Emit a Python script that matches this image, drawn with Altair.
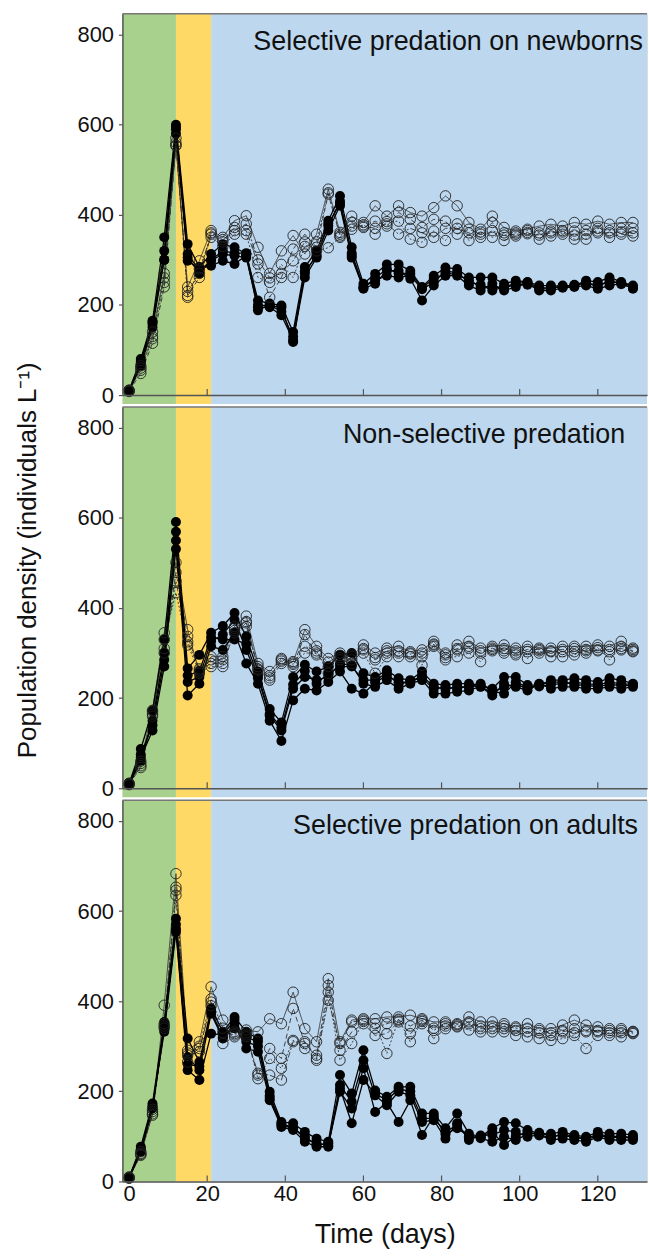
import altair as alt
import pandas as pd

FONT = "Liberation Sans"

DAYS = list(range(0, 130, 3))
REPS = ["R1", "R2", "R3", "R4"]

# four replicate values per sampling day (rows follow DAYS)
NEWBORN_PRED = [
    [10, 8, 12, 9], [80, 70, 65, 75], [165, 158, 150, 162], [350, 320, 300, 300],
    [600, 595, 590, 580], [335, 313, 298, 305], [284, 276, 280, 270], [313, 298, 287, 300],
    [335, 313, 298, 320], [328, 309, 291, 315], [313, 305, 310, 315], [210, 195, 188, 200],
    [203, 195, 200, 198], [199, 177, 185, 195], [140, 122, 130, 118], [284, 261, 270, 275],
    [320, 305, 312, 308], [387, 365, 375, 380], [442, 420, 430, 425], [328, 305, 315, 309],
    [247, 236, 240, 238], [269, 247, 255, 260], [290, 276, 265, 280], [290, 276, 261, 270],
    [276, 258, 265, 270], [240, 210, 235, 238], [265, 243, 250, 258], [283, 265, 275, 270],
    [280, 265, 272, 268], [261, 243, 250, 255], [261, 232, 245, 240], [261, 247, 232, 240],
    [247, 232, 240, 238], [254, 240, 248, 245], [251, 248, 250, 245], [243, 232, 238, 235],
    [243, 232, 238, 236], [241, 238, 240, 243], [243, 240, 245, 242], [254, 243, 248, 250],
    [251, 236, 245, 240], [261, 243, 250, 255], [251, 248, 250, 246], [243, 236, 240, 238],
]
NEWBORN_CTRL = [
    [10, 9, 11, 8], [60, 48, 55, 65], [130, 115, 125, 140], [270, 240, 250, 260],
    [553, 560, 570, 555], [240, 221, 217, 230], [298, 261, 280, 270], [365, 357, 350, 360],
    [350, 340, 330, 345], [387, 372, 357, 365], [398, 365, 357, 380], [328, 291, 261, 300],
    [270, 217, 250, 260], [320, 261, 290, 270], [354, 324, 261, 298], [313, 357, 330, 340],
    [357, 328, 340, 320], [457, 446, 449, 327], [361, 353, 357, 350], [397, 383, 368, 375],
    [383, 372, 378, 375], [420, 386, 357, 370], [397, 375, 385, 380], [420, 405, 386, 357],
    [405, 390, 346, 370], [397, 372, 339, 360], [416, 390, 364, 350], [442, 386, 343, 370],
    [420, 357, 380, 370], [383, 368, 343, 360], [368, 357, 362, 350], [397, 383, 350, 365],
    [372, 343, 360, 355], [364, 353, 360, 357], [368, 361, 365, 358], [375, 346, 360, 355],
    [379, 364, 353, 360], [375, 357, 365, 362], [383, 364, 346, 355], [379, 357, 346, 365],
    [386, 364, 370, 360], [379, 350, 365, 360], [383, 357, 370, 362], [383, 353, 370, 360],
]
NONSEL_PRED = [
    [10, 8, 12, 9], [87, 61, 68, 75], [173, 150, 128, 140], [330, 300, 270, 285],
    [591, 569, 550, 531], [266, 236, 206, 250], [296, 247, 232, 260], [345, 326, 315, 335],
    [360, 341, 307, 330], [389, 374, 345, 330], [337, 307, 277, 320], [259, 244, 232, 250],
    [176, 161, 150, 165], [146, 128, 105, 135], [247, 221, 195, 230], [274, 247, 221, 260],
    [259, 240, 217, 232], [270, 247, 236, 255], [296, 277, 259, 270], [300, 273, 221, 270],
    [255, 232, 210, 240], [247, 225, 235, 240], [262, 240, 250, 255], [244, 221, 235, 230],
    [240, 232, 236, 238], [259, 240, 250, 245], [232, 210, 225, 220], [229, 210, 220, 225],
    [232, 214, 225, 220], [232, 217, 225, 228], [229, 226, 232, 225], [221, 206, 215, 212],
    [247, 232, 210, 225], [247, 225, 235, 230], [229, 217, 225, 222], [229, 232, 226, 230],
    [240, 221, 230, 235], [240, 225, 232, 236], [244, 225, 235, 230], [240, 221, 232, 228],
    [236, 221, 230, 226], [244, 225, 235, 230], [240, 221, 232, 228], [232, 225, 230, 228],
]
NONSEL_CTRL = [
    [10, 9, 11, 8], [60, 46, 55, 50], [173, 165, 160, 170], [345, 300, 330, 310],
    [501, 479, 434, 460], [352, 337, 318, 325], [255, 262, 258, 265], [292, 277, 270, 285],
    [292, 277, 270, 285], [359, 345, 350, 355], [382, 367, 359, 370], [277, 262, 270, 265],
    [259, 240, 250, 245], [288, 277, 282, 285], [281, 270, 275, 278], [352, 341, 315, 300],
    [315, 296, 305, 300], [288, 270, 255, 280], [300, 285, 290, 295], [292, 277, 296, 285],
    [318, 307, 300, 310], [300, 285, 255, 290], [311, 300, 292, 305], [315, 292, 300, 305],
    [303, 292, 298, 300], [307, 292, 273, 300], [326, 315, 320, 318], [296, 285, 290, 300],
    [318, 307, 292, 310], [326, 311, 300, 315], [311, 300, 281, 305], [315, 311, 308, 305],
    [318, 300, 310, 305], [311, 296, 305, 300], [315, 303, 288, 308], [311, 300, 305, 308],
    [311, 303, 292, 305], [315, 303, 292, 308], [315, 303, 296, 310], [315, 300, 308, 305],
    [318, 307, 312, 305], [315, 303, 285, 308], [326, 307, 315, 310], [311, 303, 308, 305],
]
ADULT_PRED = [
    [8, 7, 10, 9], [77, 66, 70, 72], [173, 162, 168, 165], [354, 339, 332, 345],
    [583, 570, 554, 560], [317, 276, 247, 260], [265, 247, 225, 255], [384, 372, 328, 378],
    [332, 317, 325, 320], [365, 350, 358, 340], [332, 295, 310, 320], [317, 288, 300, 310],
    [199, 180, 190, 185], [132, 121, 128, 125], [129, 114, 120, 118], [110, 88, 95, 100],
    [95, 77, 85, 80], [88, 77, 80, 85], [236, 214, 199, 206], [195, 177, 162, 129],
    [291, 269, 251, 225], [202, 191, 154, 195], [188, 169, 175, 180], [210, 199, 132, 205],
    [210, 191, 180, 200], [151, 132, 103, 140], [151, 136, 145, 140], [118, 95, 105, 110],
    [151, 129, 118, 125], [106, 92, 100, 98], [99, 102, 96, 100], [118, 103, 88, 110],
    [132, 114, 99, 81], [129, 110, 92, 100], [114, 99, 105, 110], [106, 104, 108, 102],
    [106, 92, 100, 98], [110, 95, 102, 105], [103, 92, 98, 100], [99, 88, 95, 92],
    [110, 99, 105, 102], [106, 92, 100, 98], [106, 92, 100, 98], [103, 92, 98, 96],
]
ADULT_CTRL = [
    [8, 9, 10, 7], [66, 58, 62, 60], [147, 160, 155, 150], [391, 350, 340, 345],
    [683, 653, 646, 635], [291, 280, 265, 285], [310, 288, 300, 295], [432, 398, 405, 390],
    [358, 306, 340, 330], [332, 321, 328, 325], [336, 321, 330, 325], [332, 236, 228, 240],
    [361, 295, 273, 236], [350, 273, 251, 225], [420, 384, 313, 310], [339, 306, 295, 310],
    [310, 280, 269, 273], [450, 435, 420, 402], [310, 291, 269, 306], [358, 332, 306, 354],
    [361, 350, 355, 358], [361, 324, 350, 340], [365, 328, 284, 350], [365, 354, 360, 358],
    [369, 328, 310, 345], [361, 350, 355, 358], [354, 317, 340, 335], [354, 339, 345, 350],
    [350, 343, 345, 348], [365, 354, 336, 350], [354, 339, 332, 345], [354, 339, 332, 345],
    [350, 339, 332, 345], [343, 324, 335, 340], [350, 332, 321, 340], [339, 317, 330, 335],
    [339, 324, 313, 330], [347, 332, 317, 335], [358, 339, 324, 330], [347, 332, 295, 335],
    [343, 332, 324, 335], [339, 324, 330, 335], [339, 321, 330, 335], [332, 328, 330, 333],
]

PANEL_TITLES = ["Selective predation on newborns", "Non-selective predation",
                "Selective predation on adults"]
PANEL_DATA = [(NEWBORN_PRED, NEWBORN_CTRL), (NONSEL_PRED, NONSEL_CTRL), (ADULT_PRED, ADULT_CTRL)]

PHASES = ["growth", "transition", "predation"]
PHASE_START = [-1.7, 12, 21]
PHASE_END = [12, 21, 132.6]
PHASE_COLORS = ["#A9D18E", "#FFD966", "#BDD7EE"]

X_TICKS = [0, 20, 40, 60, 80, 100, 120]
Y_TICKS = [0, 200, 400, 600, 800]
X_DOMAIN = [-1.7, 132.6]
Y_DOMAIN = [0, 846]

Y_TITLE = "Population density (individuals L\u207b\u00b9)"
X_TITLE = "Time (days)"

W, H = 527, 383
STRIP = 9
TITLE_POS = [(523, 28), (505, 28), (518, 26)]
CTRL_DASHES = [[1, 0], [5, 3], [2, 2], [6, 2, 2, 2]]

xscale = alt.Scale(domain=X_DOMAIN, nice=False, zero=False)
yscale = alt.Scale(domain=Y_DOMAIN, nice=False, zero=False)

phase_df = pd.DataFrame({"phase": PHASES, "start": PHASE_START, "end": PHASE_END})
tick_df = pd.DataFrame({"t": X_TICKS})
one_df = pd.DataFrame({"a": [0]})
phase_color = alt.Color("phase:N", scale=alt.Scale(domain=PHASES, range=PHASE_COLORS), legend=None)


def make_panel(i):
    pred, ctrl = PANEL_DATA[i]
    rows = []
    for k, day in enumerate(DAYS):
        for r, rep in enumerate(REPS):
            rows.append({"group": "pred", "rep": rep, "series": "pred" + rep, "day": day, "value": pred[k][r]})
            rows.append({"group": "ctrl", "rep": rep, "series": "ctrl" + rep, "day": day, "value": ctrl[k][r]})
    df = pd.DataFrame(rows)
    bottom = i == 2

    xaxis = alt.Axis(values=X_TICKS, grid=False, ticks=False, tickSize=0, labels=bottom,
                     labelFontSize=22, labelPadding=2, labelColor="#111", labelFont=FONT,
                     title=X_TITLE if bottom else "", titleFontSize=27, titleFontWeight="normal",
                     titleFont=FONT, titleColor="#111", titlePadding=17,
                     domainColor="#555", domainWidth=1.5, zindex=1)
    yaxis = alt.Axis(values=Y_TICKS, grid=False, tickSize=4, tickColor="#555", tickWidth=1.2,
                     labelPadding=5, labelFontSize=22, labelColor="#111", labelFont=FONT,
                     title="", domainColor="#555", domainWidth=1.5, zindex=1)

    X = lambda f: alt.X(f, scale=xscale, axis=xaxis)
    Y = lambda f: alt.Y(f, scale=yscale, axis=yaxis)

    layers = []
    layers.append(alt.Chart(phase_df).mark_rect().encode(
        x=X("start:Q"), x2="end:Q", y=alt.value(0), y2=alt.value(H), color=phase_color))
    if not bottom:
        layers.append(alt.Chart(phase_df).mark_rect().encode(
            x=X("start:Q"), x2="end:Q", y=alt.value(H), y2=alt.value(H + STRIP), color=phase_color))
    layers.append(alt.Chart(tick_df).mark_rule(color="#555", strokeWidth=1.2).encode(
        x=X("t:Q"), y=alt.value(H - 6), y2=alt.value(H)))
    layers.append(alt.Chart(one_df).mark_rule(color="#777", strokeWidth=1.5).encode(
        x=alt.value(0), x2=alt.value(W), y=alt.value(0)))

    ctrl_df = df[df.group == "ctrl"]
    pred_df = df[df.group == "pred"]
    layers.append(alt.Chart(ctrl_df).mark_line(color="#333", strokeWidth=0.9).encode(
        x=X("day:Q"), y=Y("value:Q"), detail="series:N", order="day:Q",
        strokeDash=alt.StrokeDash("rep:N", scale=alt.Scale(domain=REPS, range=CTRL_DASHES), legend=None)))
    layers.append(alt.Chart(pred_df).mark_line(color="black", strokeWidth=1.3).encode(
        x=X("day:Q"), y=Y("value:Q"), detail="series:N", order="day:Q"))
    layers.append(alt.Chart(pred_df).mark_circle(size=100, color="black", opacity=1).encode(
        x=X("day:Q"), y=Y("value:Q")))
    layers.append(alt.Chart(ctrl_df).mark_point(shape="circle", filled=False, size=110, color="#222",
                                                strokeWidth=0.9, opacity=1).encode(
        x=X("day:Q"), y=Y("value:Q")))

    tx, ty = TITLE_POS[i]
    layers.append(alt.Chart(one_df).mark_text(text=PANEL_TITLES[i], align="right", baseline="middle",
                                              fontSize=27, font=FONT, color="#111").encode(
        x=alt.value(tx), y=alt.value(ty)))
    if i == 1:
        layers.append(alt.Chart(one_df).mark_text(text=Y_TITLE, angle=270, align="center",
                                                  baseline="middle", fontSize=26, font=FONT,
                                                  color="#111").encode(
            x=alt.value(-95), y=alt.value(154)))

    return alt.layer(*layers).properties(width=W, height=H)


chart = alt.vconcat(make_panel(0), make_panel(1), make_panel(2), spacing=12, bounds="flush").properties(
    padding={"left": 14, "top": 9, "right": 0, "bottom": 5}
).configure_view(stroke="transparent").configure(font=FONT)

chart.save("out.html", embed_options={"renderer": "svg", "actions": False})
